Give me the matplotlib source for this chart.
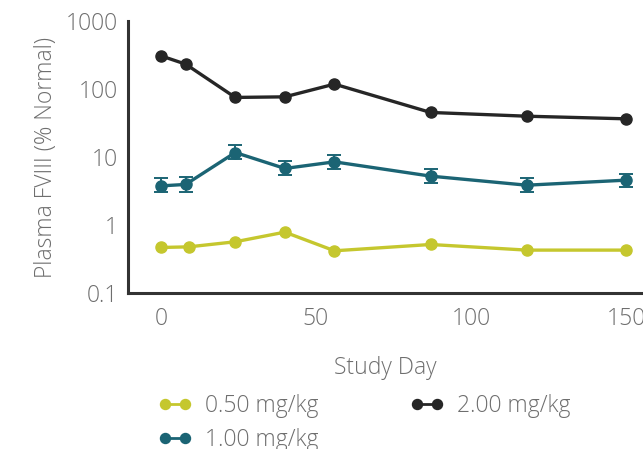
import numpy as np
import matplotlib
matplotlib.use("Agg")
import matplotlib.pyplot as plt

plt.rcParams['font.family'] = ['Open Sans', 'DejaVu Sans']
plt.rcParams['font.weight'] = 300
plt.rcParams['axes.labelweight'] = 300

# data
days = [0, 8, 24, 40, 56, 87, 118, 150]
days_low = [0, 9, 24, 40, 56, 87, 118, 150]

dose_050 = [0.47, 0.48, 0.57, 0.79, 0.42, 0.52, 0.43, 0.43]
dose_100 = [3.78, 3.97, 11.7, 6.82, 8.53, 5.26, 3.87, 4.59]
dose_100_hi = [4.86, 5.08, 14.9, 8.73, 10.7, 6.66, 4.91, 5.68]
dose_100_lo = [3.03, 3.09, 9.25, 5.49, 6.66, 4.19, 3.06, 3.58]
dose_200 = [309, 233, 75.5, 77, 118.5, 45.4, 40, 36.6]

labels = ['0.50 mg/kg', '1.00 mg/kg', '2.00 mg/kg']
colors = ['#c5c72e', '#1b6474', '#262626']

yticks = [0.1, 1, 10, 100, 1000]
ytick_labels = ['0.1', '1', '10', '100', '1000']
xticks = [0, 50, 100, 150]

txt = '#6e6e6e'

fig = plt.figure(figsize=(6.43, 4.49), dpi=100)
ax = fig.add_axes([0.199, 0.347, 0.801, 0.606])

l1, = ax.plot(days_low, dose_050, '-o', color=colors[0], lw=2.4, ms=8, label=labels[0])

yerr = [np.array(dose_100) - np.array(dose_100_lo), np.array(dose_100_hi) - np.array(dose_100)]
ax.errorbar(days, dose_100, yerr=yerr, fmt='none', ecolor=colors[1], elinewidth=1.4,
            capsize=5, capthick=1.4)
l2, = ax.plot(days, dose_100, '-o', color=colors[1], lw=2.4, ms=8, label=labels[1])

l3, = ax.plot(days, dose_200, '-o', color=colors[2], lw=2.4, ms=8, label=labels[2])

ax.set_yscale('log')
ax.set_ylim(0.1, 1000)
ax.set_xlim(-10.6, 155.5)
ax.set_yticks(yticks)
ax.set_yticklabels(ytick_labels)
ax.minorticks_off()
ax.set_xticks(xticks)

for s in ['top', 'right']:
    ax.spines[s].set_visible(False)
for s in ['left', 'bottom']:
    ax.spines[s].set_color('#333333')
    ax.spines[s].set_linewidth(2.2)

ax.tick_params(axis='both', length=0, labelsize=16.5, labelcolor=txt)
ax.tick_params(axis='x', pad=10)
ax.tick_params(axis='y', pad=7)

ax.set_xlabel('Study Day', fontsize=16.5, color=txt, labelpad=18)
ax.set_ylabel('Plasma FVIII (% Normal)', fontsize=16.5, color=txt, labelpad=6)

leg = fig.legend(handles=[l1, l2, l3], labels=labels, ncol=2, loc='upper left',
                 bbox_to_anchor=(0.232, 0.143), borderaxespad=0, frameon=False,
                 fontsize=16.5, labelcolor=txt, handlelength=1.45, columnspacing=4.0,
                 handletextpad=0.6, labelspacing=0.43, numpoints=2, markerscale=0.9)
for h in leg.legend_handles:
    h.set_linewidth(2.0)

fig.savefig('out.png', dpi=100)
